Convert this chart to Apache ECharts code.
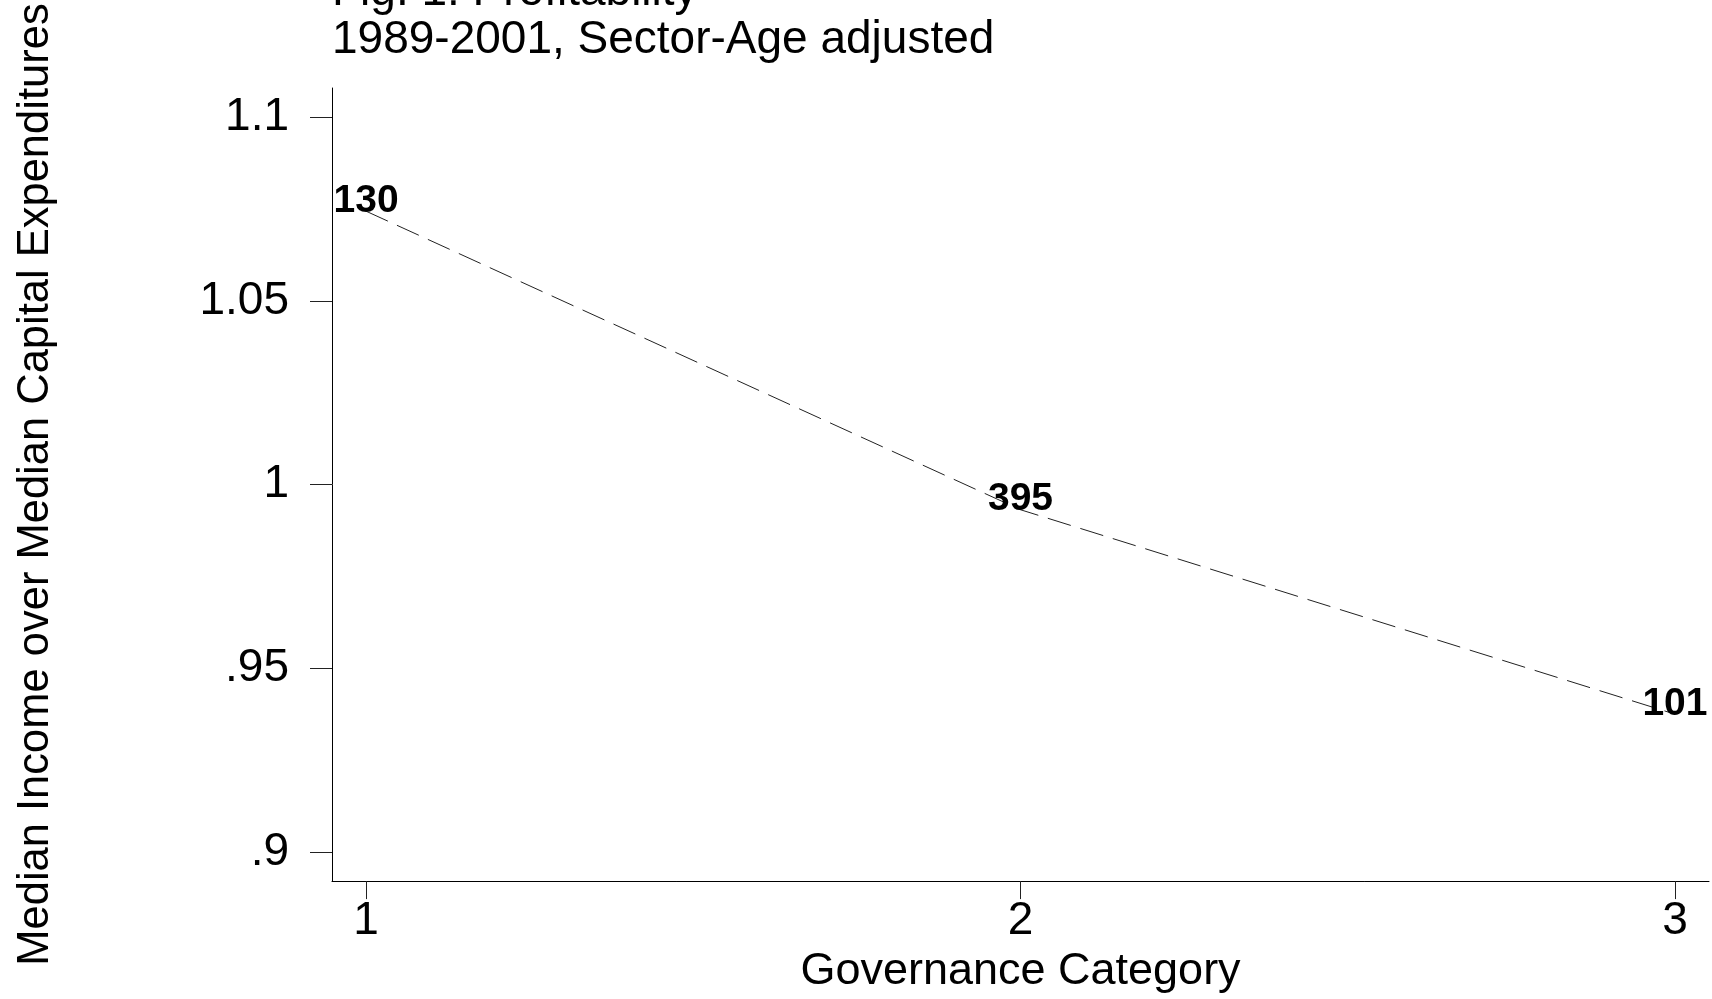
<!DOCTYPE html>
<html>
<head>
<meta charset="utf-8">
<script src="https://cdn.jsdelivr.net/npm/echarts@6/dist/echarts.min.js"></script>
<style>
html,body{margin:0;padding:0;background:#fff;}
#chart{width:1712px;height:999px;}
</style>
</head>
<body>
<div id="chart"></div>
<script>
// Data
const categories = [1, 2, 3];                 // Governance Category
const values = [1.0744, 0.9932, 0.9376];      // Median income / median capex
const counts = ['130', '395', '101'];         // marker labels (N)
const yTicks = [0.9, 0.95, 1, 1.05, 1.1];
const yTickLabels = ['.9', '.95', '1', '1.05', '1.1'];
const xTicks = [1, 2, 3];
const xTickLabels = ['1', '2', '3'];
const titleLines = ['Fig. 1: Profitability', '1989-2001, Sector-Age adjusted'];
const xTitle = 'Governance Category';
const yTitle = 'Median Income over Median Capital Expenditures';

const FONT = '"Liberation Sans", Arial, sans-serif';

function lookup(v, ticks, labels) {
  for (let i = 0; i < ticks.length; i++) {
    if (Math.abs(ticks[i] - v) < 1e-9) return labels[i];
  }
  return '';
}

const chart = echarts.init(document.getElementById('chart'), null, {renderer: 'canvas'});
chart.setOption({
  animation: false,
  backgroundColor: '#fff',
  title: {
    text: titleLines.join('\n'),
    left: 332,
    top: -32,
    padding: 0,
    textStyle: {
      fontFamily: FONT,
      fontSize: 46,
      lineHeight: 48,
      fontWeight: 'normal',
      color: '#000'
    }
  },
  grid: {left: 332, right: 3, top: 88, bottom: 109, containLabel: false},
  xAxis: {
    type: 'value',
    min: 0.948,
    max: 3.052,
    name: xTitle,
    nameLocation: 'middle',
    nameGap: 66,
    nameTextStyle: {fontFamily: FONT, fontSize: 45, color: '#000'},
    splitLine: {show: false},
    axisLine: {show: true, onZero: false, lineStyle: {color: '#000', width: 1}},
    axisTick: {show: true, customValues: xTicks, length: 18, lineStyle: {color: '#222', width: 1}},
    axisLabel: {
      customValues: xTicks,
      margin: 17,
      fontFamily: FONT,
      fontSize: 46,
      color: '#000',
      formatter: v => lookup(v, xTicks, xTickLabels)
    }
  },
  yAxis: {
    type: 'value',
    min: 0.8922,
    max: 1.1079,
    name: yTitle,
    nameLocation: 'middle',
    nameGap: 274,
    nameTextStyle: {fontFamily: FONT, fontSize: 43.5, color: '#000'},
    splitLine: {show: false},
    axisLine: {show: true, onZero: false, lineStyle: {color: '#000', width: 1}},
    axisTick: {show: true, customValues: yTicks, length: 22, lineStyle: {color: '#222', width: 1}},
    axisLabel: {
      customValues: yTicks,
      margin: 43,
      fontFamily: FONT,
      fontSize: 46,
      color: '#000',
      formatter: v => lookup(v, yTicks, yTickLabels)
    }
  },
  series: [{
    type: 'line',
    data: categories.map((c, i) => [c, values[i]]),
    symbol: 'circle',
    symbolSize: 1,
    showSymbol: true,
    itemStyle: {color: 'rgba(0,0,0,0)'},
    lineStyle: {color: '#222', width: 1, type: [24, 10]},
    label: {
      show: true,
      position: 'inside',
      offset: [0, -10],
      formatter: p => counts[p.dataIndex],
      fontFamily: FONT,
      fontWeight: 'bold',
      fontSize: 39,
      color: '#000'
    },
    emphasis: {disabled: true}
  }]
});
</script>
</body>
</html>
